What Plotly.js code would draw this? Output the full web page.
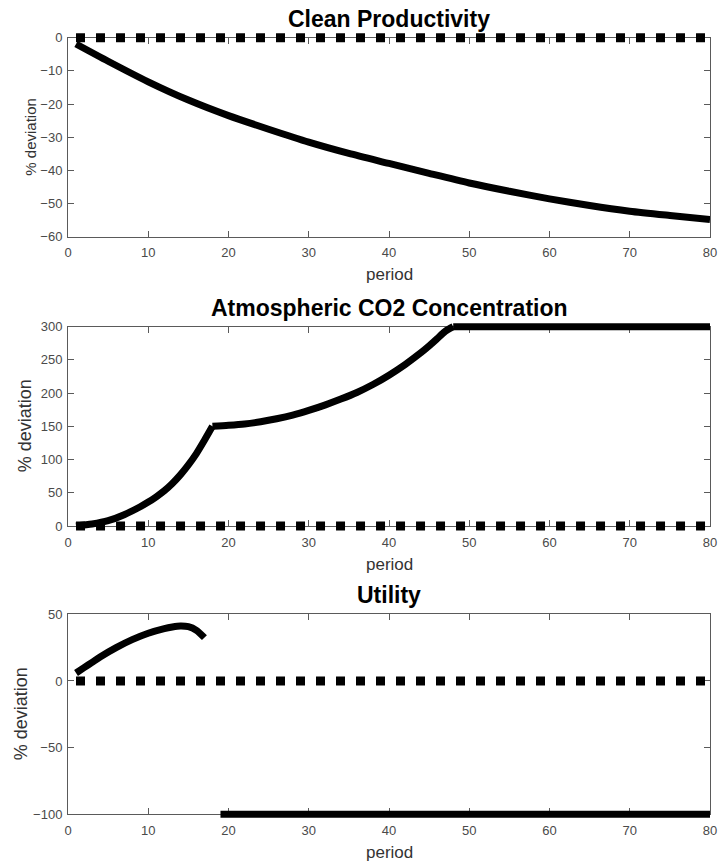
<!DOCTYPE html>
<html>
<head>
<meta charset="utf-8">
<script src="https://cdn.plot.ly/plotly-3.0.1.min.js"></script>
<style>html,body{margin:0;padding:0;background:#fff;}#chart{width:720px;height:866px;}</style>
</head>
<body>
<div id="chart"></div>
<script>
// ---------- data ----------
const panelTitles = ["Clean Productivity", "Atmospheric CO2 Concentration", "Utility"];
const xTitle = "period";
const yTitle = "% deviation";

const xTickVals = [0, 10, 20, 30, 40, 50, 60, 70, 80];
const cleanTickVals = [0, -10, -20, -30, -40, -50, -60];
const co2TickVals = [0, 50, 100, 150, 200, 250, 300];
const utilTickVals = [-100, -50, 0, 50];

// baseline (dotted) series
const zeroX = [1, 80];
const zeroY = [0, 0];

// Clean Productivity
const cleanX = [1, 5, 10, 15, 20, 25, 30, 35, 40, 45, 50, 55, 60, 65, 70, 75, 80];
const cleanY = [-1.9, -7.1, -13.3, -18.8, -23.5, -27.6, -31.5, -34.9, -37.9, -40.9, -43.8, -46.3, -48.6, -50.6, -52.3, -53.6, -54.8];

// Atmospheric CO2 Concentration
const co2X = [1, 3, 5, 7, 9, 10, 11, 12, 13, 14, 15, 16, 17, 18, 20, 22, 24, 26, 28, 30, 32, 34, 36, 38, 40, 42, 44, 45, 46, 47, 48, 80];
const co2Y = [0, 3, 8, 17, 29, 36, 44, 53, 64, 77, 92, 109, 129, 150, 151.5, 153.5, 157, 161.5, 167, 174, 182, 191, 201, 213, 227, 243, 261, 271, 282, 293, 300, 300];
const co2Kinks = [18, 48]; // periods where the path changes regime

// Utility
const utilX = [1, 2, 3, 4, 6, 8, 10, 12, 13, 14, 15, 16, 17, 18, 19, 80];
const utilY = [6, 10, 14, 18, 25, 31, 35.8, 39.3, 40.5, 41.2, 40.7, 38, 32.5, null, -100, -100];

const yRanges = [[-60, 0], [0, 300], [-100, 50]];
const yTicks = [cleanTickVals, co2TickVals, utilTickVals];

// split a series into smooth pieces at given break x-values (pieces share the break point)
function splitSeries(xs, ys, breaks) {
  const pieces = [];
  let cur = {x: [], y: []};
  for (let k = 0; k < xs.length; k++) {
    cur.x.push(xs[k]); cur.y.push(ys[k]);
    if (breaks.indexOf(xs[k]) !== -1 && k < xs.length - 1) {
      pieces.push(cur);
      cur = {x: [xs[k]], y: [ys[k]]};
    }
  }
  pieces.push(cur);
  return pieces;
}

const seriesPieces = [
  [{x: cleanX, y: cleanY}],
  splitSeries(co2X, co2Y, co2Kinks),
  [{x: utilX, y: utilY}]
];

// ---------- layout geometry (pixels) ----------
const W = 720, H = 866;
const L = 68, R = 10;
const plotW = W - L - R;
const panelTop = [37.7, 326.7, 614.3];
const panelBot = [236.7, 526, 814.3];
const titleY = [18.5, 308, 595];
const periodY = [274, 564, 852.5];
const yTitleX = [30.5, 25, 21];
const yTitleSize = [15, 18, 18];
const ext = 14; // px of un-clipped room around each panel for the data layer

const axisColor = "#5a5a5a";
const tickFont = {family: "Liberation Sans, Arial, sans-serif", size: 13, color: "#4a4a4a"};

const layout = {
  width: W, height: H,
  margin: {l: L, r: R, t: 0, b: 0, pad: 0},
  paper_bgcolor: "#fff", plot_bgcolor: "rgba(0,0,0,0)",
  showlegend: false, hovermode: false,
  annotations: []
};
const traces = [];

for (let i = 0; i < 3; i++) {
  const n = i + 1;
  const xa = n === 1 ? "xaxis" : "xaxis" + n;
  const ya = n === 1 ? "yaxis" : "yaxis" + n;
  const xr = n === 1 ? "x" : "x" + n;
  const yr = n === 1 ? "y" : "y" + n;
  const dataY = "y" + (n + 3);
  const dataYa = "yaxis" + (n + 3);

  const d0 = 1 - panelBot[i] / H, d1 = 1 - panelTop[i] / H;
  const e = ext / H;
  const span = yRanges[i][1] - yRanges[i][0];
  const extra = span * e / (d1 - d0);

  layout[xa] = {
    domain: [0, 1], range: [0, 80], anchor: yr,
    tickmode: "array", tickvals: xTickVals,
    ticks: "inside", ticklen: 6, tickwidth: 1, tickcolor: axisColor,
    showline: true, linecolor: axisColor, linewidth: 1, mirror: "ticks",
    showgrid: false, zeroline: false, tickfont: tickFont, ticklabelstandoff: 4,
    fixedrange: true
  };
  layout[ya] = {
    domain: [d0, d1], range: yRanges[i], anchor: xr,
    tickmode: "array", tickvals: yTicks[i],
    ticks: "inside", ticklen: 6, tickwidth: 1, tickcolor: axisColor,
    showline: true, linecolor: axisColor, linewidth: 1, mirror: "ticks",
    showgrid: false, zeroline: false, tickfont: tickFont, ticklabelstandoff: 2,
    fixedrange: true
  };
  // invisible data layer axis: same value->pixel mapping, larger clip box
  layout[dataYa] = {
    domain: [d0 - e, d1 + e],
    range: [yRanges[i][0] - extra, yRanges[i][1] + extra],
    anchor: xr, visible: false, showgrid: false, zeroline: false, fixedrange: true
  };

  // placeholder so that the framed subplot is created
  traces.push({x: [], y: [], xaxis: xr, yaxis: yr, type: "scatter", mode: "lines", showlegend: false});

  traces.push({
    x: zeroX, y: zeroY, xaxis: xr, yaxis: dataY, type: "scatter", mode: "lines",
    line: {color: "#000", width: 9, dash: "9px,11px"}, showlegend: false
  });
  seriesPieces[i].forEach(function (p) {
    traces.push({
      x: p.x, y: p.y, xaxis: xr, yaxis: dataY, type: "scatter", mode: "lines",
      connectgaps: false,
      line: {color: "#000", width: 7, shape: "spline", smoothing: 0.7}, showlegend: false
    });
  });

  layout.annotations.push({
    text: "<b>" + panelTitles[i] + "</b>", xref: "paper", yref: "paper",
    x: 0.5, y: 1 - titleY[i] / H, xanchor: "center", yanchor: "middle", showarrow: false,
    font: {family: "Liberation Sans, Arial, sans-serif", size: 23, color: "#000"}
  });
  layout.annotations.push({
    text: xTitle, xref: "paper", yref: "paper",
    x: 0.5, y: 1 - periodY[i] / H, xanchor: "center", yanchor: "middle", showarrow: false,
    font: {family: "Liberation Sans, Arial, sans-serif", size: 17, color: "#333"}
  });
  layout.annotations.push({
    text: yTitle, xref: "paper", yref: "paper", textangle: -90,
    x: (yTitleX[i] - L) / plotW, y: 1 - (panelTop[i] + panelBot[i]) / 2 / H,
    xanchor: "center", yanchor: "middle", showarrow: false,
    font: {family: "Liberation Sans, Arial, sans-serif", size: yTitleSize[i], color: "#333"}
  });
}

Plotly.newPlot("chart", traces, layout, {displayModeBar: false, staticPlot: true});
</script>
</body>
</html>
